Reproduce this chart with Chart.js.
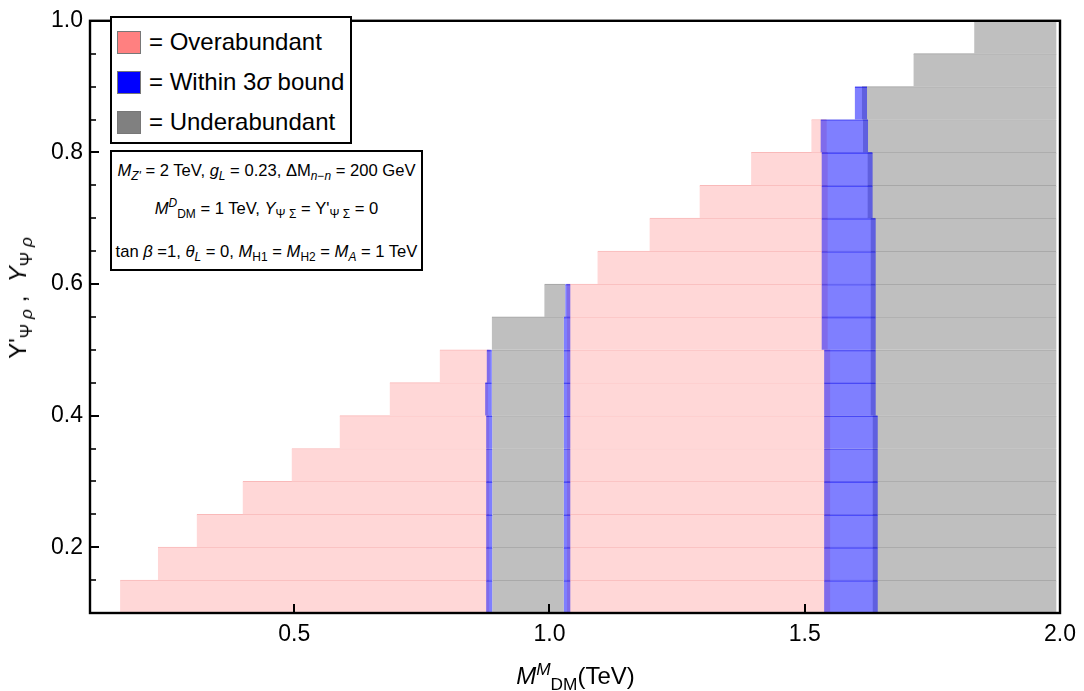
<!DOCTYPE html>
<html>
<head>
<meta charset="utf-8">
<script src="https://cdn.jsdelivr.net/npm/chart.js@4.4.1/dist/chart.umd.min.js"></script>
<style>
  body { margin: 0; background: #fff; font-family: 'Liberation Sans', Arial, Helvetica, sans-serif; color: #000; }
  #wrap { position: relative; width: 1084px; height: 691px; overflow: hidden; }
  #c { position: absolute; left: 0; top: 0; }
  .box { position: absolute; border: 2px solid #000; background: #fff; box-sizing: border-box; }
  .sw { position: absolute; width: 24px; height: 23px; box-sizing: border-box; border: 1px solid #777; }
  .lt { position: absolute; font-size: 24px; line-height: 26px; white-space: nowrap; }
  .ann { position: absolute; left: 0; width: 100%; text-align: center; font-size: 16.6px; line-height: 20px; white-space: nowrap; }
  sub, sup { font-size: 72%; line-height: 0; position: relative; vertical-align: baseline; }
  sub { top: 0.35em; }
  sup { top: -0.55em; }
  #xtitle { position: absolute; left: 0; width: 1151px; top: 662px; text-align: center; font-size: 24px; white-space: nowrap; }
  #ytitle { position: absolute; left: 18px; top: 298px; font-size: 24px; white-space: nowrap; transform: translate(-50%, -50%) rotate(-90deg); }
</style>
</head>
<body>
<div id="wrap">
  <canvas id="c" width="1084" height="691"></canvas>

  <div class="box" style="left:110px; top:16px; width:242px; height:128px;"></div>
  <div class="sw" style="left:117px; top:31px; background:#FF8080;"></div>
  <div class="lt" style="left:149px; top:29px;">= Overabundant</div>
  <div class="sw" style="left:117px; top:71px; background:#0000FF;"></div>
  <div class="lt" style="left:149px; top:69px;">= Within 3<i>σ</i> bound</div>
  <div class="sw" style="left:117px; top:111px; background:#808080;"></div>
  <div class="lt" style="left:149px; top:109px;">= Underabundant</div>

  <div class="box" style="left:110px; top:150px; width:313px; height:121px;">
    <div class="ann" style="top:9px;"><i>M</i><sub><i>Z'</i></sub> = 2 TeV, <i>g</i><sub><i>L</i></sub> = 0.23, ΔM<sub><i>n</i>−<i>n</i></sub> = 200 GeV</div>
    <div class="ann" style="top:47px;"><i>M</i><sup><i>D</i></sup><sub>DM</sub> = 1 TeV, <i>Y</i><sub>Ψ Σ</sub> = Y'<sub>Ψ Σ</sub> = 0</div>
    <div class="ann" style="top:90px;">tan <i>β</i> =1, <i>θ</i><sub><i>L</i></sub> = 0, <i>M</i><sub>H1</sub> = <i>M</i><sub>H2</sub> = <i>M</i><sub><i>A</i></sub> = 1 TeV</div>
  </div>

  <div id="xtitle"><i>M</i><sup><i>M</i></sup><sub>DM</sub>(TeV)</div>
  <div id="ytitle">Y'<sub>Ψ <i>ρ</i></sub> , &nbsp;<i>Y</i><sub>Ψ <i>ρ</i></sub></div>
</div>

<script>
// ---------------- data ----------------
// horizontal strips in Y (Y'_psi_rho, Y_psi_rho)
const yRowLow  = [0.10,0.15,0.20,0.25,0.30,0.35,0.40,0.45,0.50,0.55,0.60,0.65,0.70,0.75,0.80,0.85,0.90,0.95];
const yRowHigh = [0.15,0.20,0.25,0.30,0.35,0.40,0.45,0.50,0.55,0.60,0.65,0.70,0.75,0.80,0.85,0.90,0.95,1.00];
// first allowed M^M_DM (TeV) of each strip and last sampled mass
const rowStart = [0.159,0.233,0.309,0.399,0.495,0.589,0.687,0.785,0.887,0.990,1.094,1.196,1.294,1.395,1.513,1.598,1.713,1.832];
const rowEnd   = [1.993,1.993,1.993,1.993,1.993,1.993,1.993,1.993,1.993,1.993,1.993,1.993,1.993,1.993,1.993,1.993,1.993,1.993];
// "within 3 sigma" bands (TeV); null = band lies left of the strip start
const band1Lo = [0.876,0.876,0.876,0.876,0.876,0.876,0.874,0.877,null,null,null,null,null,null,null,null,null,null];
const band1Hi = [0.888,0.888,0.888,0.888,0.888,0.888,0.887,0.887,null,null,null,null,null,null,null,null,null,null];
const band2Lo = [1.028,1.028,1.028,1.028,1.028,1.028,1.028,1.028,1.028,1.031,null,null,null,null,null,null,null,null];
const band2Hi = [1.041,1.041,1.041,1.041,1.041,1.041,1.041,1.041,1.041,1.041,null,null,null,null,null,null,null,null];
const band3Lo = [1.538,1.538,1.538,1.538,1.538,1.538,1.538,1.538,1.533,1.533,1.533,1.533,1.533,1.533,1.531,1.598,null,null];
const band3Hi = [1.643,1.643,1.643,1.643,1.643,1.643,1.639,1.639,1.639,1.639,1.639,1.639,1.633,1.633,1.624,1.622,null,null];
// axes
const xTickValues = [0.5, 1.0, 1.5, 2.0];
const yTickValues = [0.2, 0.4, 0.6, 0.8, 1.0];
const yMinorTicks = [0.15,0.25,0.3,0.35,0.45,0.5,0.55,0.65,0.7,0.75,0.85,0.9,0.95];

// ---------------- build floating-bar datasets ----------------
const over = [], within = [], under = [];
const ovl = [0.006, 0.007, 0.012, 0.010]; // small blend overlaps under the translucent band
for (let i = 0; i < yRowLow.length; i++) {
  const yc = (yRowLow[i] + yRowHigh[i]) / 2;
  const s = rowStart[i], e = rowEnd[i];
  const b = [[band1Lo[i], band1Hi[i]], [band2Lo[i], band2Hi[i]], [band3Lo[i], band3Hi[i]]]
    .map(p => p[0] === null ? [-Infinity, -Infinity] : p);
  const zones = [
    { lo: s, hi: b[0][0], kind: over, loB: false },
    { lo: b[0][1], hi: b[1][0], kind: under, loB: true },
    { lo: b[1][1], hi: b[2][0], kind: over, loB: true },
    { lo: b[2][1], hi: e, kind: under, loB: true }
  ];
  zones.forEach((z, k) => {
    let lo = Math.max(s, z.lo), hi = Math.min(e, z.hi);
    if (lo < hi) {
      if (z.loB && z.lo >= s) lo -= (k === 2 ? ovl[1] : (k === 3 ? ovl[3] : 0));
      if (k === 0) hi += ovl[0];
      if (k === 2) hi += ovl[2];
      z.kind.push({ y: yc, x: [lo, hi] });
    }
  });
  b.forEach(p => {
    const lo = Math.max(s, p[0]), hi = p[1];
    if (hi > lo) within.push({ y: yc, x: [lo, hi] });
  });
}

const common = { barPercentage: 1, categoryPercentage: 1, grouped: false, borderSkipped: false,
                 borderWidth: { top: 1, left: 0, right: 0, bottom: 0 } };

const framePlugin = {
  id: 'frame',
  afterDatasetsDraw(chart) {
    const { ctx, chartArea: a, scales: { x, y } } = chart;
    ctx.save();
    ctx.strokeStyle = '#000';
    ctx.lineWidth = 2;
    xTickValues.forEach(v => {
      const px = Math.round(x.getPixelForValue(v));
      ctx.beginPath(); ctx.moveTo(px, a.bottom); ctx.lineTo(px, a.bottom - 9); ctx.stroke();
    });
    yTickValues.forEach(v => {
      const py = Math.round(y.getPixelForValue(v));
      ctx.beginPath(); ctx.moveTo(a.left, py); ctx.lineTo(a.left + 9, py); ctx.stroke();
    });
    ctx.lineWidth = 1.6;
    yMinorTicks.forEach(v => {
      const py = Math.round(y.getPixelForValue(v));
      ctx.beginPath(); ctx.moveTo(a.left, py); ctx.lineTo(a.left + 6, py); ctx.stroke();
    });
    ctx.lineWidth = 2.4;
    ctx.strokeRect(a.left, a.top, a.right - a.left, a.bottom - a.top);
    ctx.restore();
  }
};

Chart.defaults.font.family = "'Liberation Sans', Arial, Helvetica, sans-serif";
Chart.defaults.color = '#000';

new Chart(document.getElementById('c'), {
  type: 'bar',
  data: {
    datasets: [
      Object.assign({ label: 'Within 3σ bound', data: within, order: 0,
        backgroundColor: 'rgba(0,0,255,0.5)', borderColor: 'rgba(0,0,230,0.55)' }, common),
      Object.assign({ label: 'Overabundant', data: over, order: 1,
        backgroundColor: '#FFD7D7', borderColor: '#F9B9B9' }, common),
      Object.assign({ label: 'Underabundant', data: under, order: 2,
        backgroundColor: '#BFBFBF', borderColor: '#A2A2A2' }, common)
    ]
  },
  options: {
    indexAxis: 'y',
    responsive: false,
    animation: false,
    devicePixelRatio: 1,
    layout: { padding: { top: 12, right: 23, left: 0, bottom: 0 } },
    plugins: { legend: { display: false }, tooltip: { enabled: false } },
    scales: {
      y: {
        type: 'linear', min: 0.1, max: 1.0, offset: false,
        afterBuildTicks: s => { s.ticks = yTickValues.map(v => ({ value: v })); },
        afterFit: s => { s.width = 90; },
        ticks: { callback: v => Number(v).toFixed(1), font: { size: 23 }, color: '#000', padding: 7 },
        grid: { display: false, drawTicks: false },
        border: { display: false }
      },
      x: {
        type: 'linear', min: 0.1, max: 2.0, offset: false,
        afterBuildTicks: s => { s.ticks = xTickValues.map(v => ({ value: v })); },
        afterFit: s => { s.height = 78; },
        ticks: { callback: v => Number(v).toFixed(1), font: { size: 23 }, color: '#000', padding: 8, maxRotation: 0 },
        grid: { display: false, drawTicks: false },
        border: { display: false }
      }
    }
  },
  plugins: [framePlugin]
});
</script>
</body>
</html>
